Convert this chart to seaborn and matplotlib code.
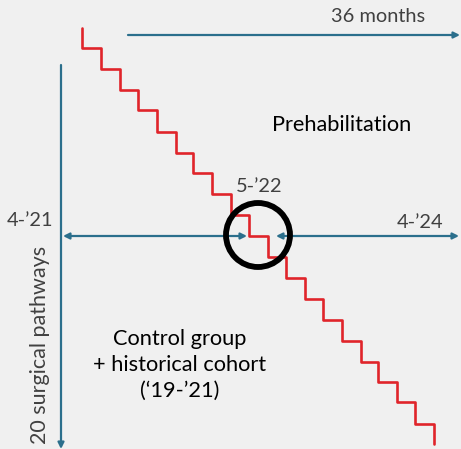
import matplotlib
matplotlib.use("Agg")
import matplotlib.pyplot as plt
import pandas as pd
import seaborn as sns
from matplotlib.patches import Circle

# x position of each pathway's switch (vertical step)
step_x = [82, 101, 120, 138, 157, 176, 193, 212, 231, 249,
          268, 286, 305, 323, 342, 361, 378, 397, 415, 434]
# y position of each horizontal tread
step_y = [48, 69, 90, 110, 132, 153, 173, 194, 215, 236,
          257, 278, 299, 320, 341, 362, 382, 402, 424]
line_top, line_bottom = 28, 444

labels = {
    'months': '36 months',
    'start': '4-\u201921',
    'mid': '5-\u201922',
    'end': '4-\u201924',
    'prehab': 'Prehabilitation',
    'control': 'Control group\n+ historical cohort\n(\u201819-\u201921)',
    'pathways': '20 surgical pathways',
}

BG = '#f0f0f0'
TEAL = '#2b6f8c'
RED = '#e0242a'
TXT = '#404040'

# build the staircase path
xs, ys = [step_x[0]], [line_top]
for i, x in enumerate(step_x):
    if i > 0:
        xs.append(x)
        ys.append(step_y[i - 1])
    xs.append(x)
    ys.append(step_y[i] if i < len(step_y) else line_bottom)
df = pd.DataFrame({'x': xs, 'y': ys, 'order': range(len(xs))})

sns.set_theme(style='white')
plt.rcParams['font.family'] = ['Lato', 'DejaVu Sans']

fig = plt.figure(figsize=(4.61, 4.49), dpi=100, facecolor=BG)
ax = fig.add_axes([0, 0, 1, 1], facecolor=BG)
ax.set_xlim(0, 461)
ax.set_ylim(449, 0)
ax.axis('off')

sns.lineplot(data=df, x='x', y='y', sort=False, estimator=None,
             color=RED, linewidth=1.9, ax=ax)

arrow = dict(arrowstyle='-|>', color=TEAL, lw=1.6, mutation_scale=9,
             shrinkA=0, shrinkB=0)
both = dict(arrow, arrowstyle='<|-|>')
# top timeline
ax.annotate('', xy=(460, 35), xytext=(128, 35), arrowprops=arrow)
# vertical pathways axis
ax.annotate('', xy=(61, 449), xytext=(61, 65), arrowprops=arrow)
# horizontal arrows into the circle
ax.annotate('', xy=(247, 236), xytext=(63, 236), arrowprops=both)
ax.annotate('', xy=(459, 236), xytext=(276, 236), arrowprops=both)

ax.add_patch(Circle((258, 235), 32, fill=False, lw=4.2, color='black', zorder=5))

small = 14.4
big = 15.7
ax.text(378, 17, labels['months'], ha='center', va='center', fontsize=small, color=TXT)
ax.text(30, 221, labels['start'], ha='center', va='center', fontsize=small, color=TXT)
ax.text(259, 186, labels['mid'], ha='center', va='center', fontsize=small, color=TXT)
ax.text(420, 222, labels['end'], ha='center', va='center', fontsize=small, color=TXT)
ax.text(342, 125, labels['prehab'], ha='center', va='center', fontsize=big, color='black')
ax.text(180, 365, labels['control'], ha='center', va='center', fontsize=big,
        color='black', linespacing=1.35)
ax.text(40, 345, labels['pathways'], ha='center', va='center', fontsize=15.5,
        color=TXT, rotation=90)

fig.savefig('out.png', dpi=100, facecolor=BG)
